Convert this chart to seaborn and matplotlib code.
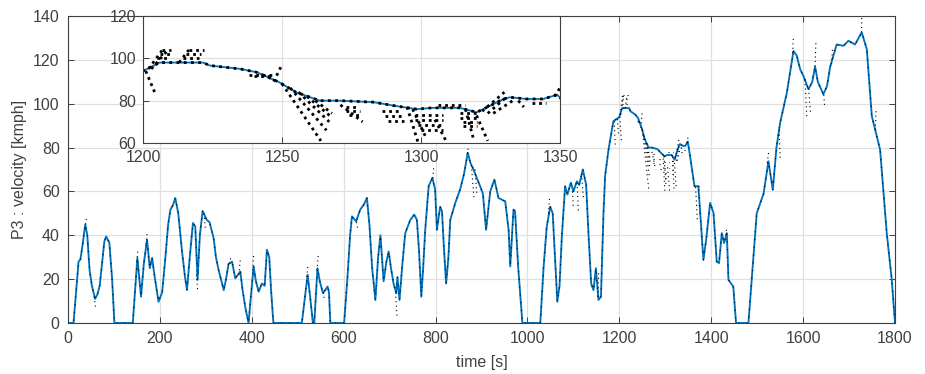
import numpy as np
import pandas as pd
import matplotlib
matplotlib.use("Agg")
import matplotlib.pyplot as plt
import seaborn as sns

# ---------------- data ----------------
ref_t = [0, 12, 23, 27, 32, 37.6, 42, 47, 52, 59, 64, 69, 75, 79, 83, 90, 96, 101,
         141, 151, 159, 165, 172, 178, 183, 188, 197, 205, 212, 218, 223, 229, 233.5,
         240, 248, 254, 259, 265, 272, 277, 282, 287, 293, 302, 308, 317, 322, 328,
         339, 344, 349.5, 357, 364, 370, 375, 380, 386, 393, 398, 404, 409, 415, 422,
         428, 433, 438, 442, 447, 509, 521.5, 527, 533, 536, 543, 548, 555, 565, 568,
         571, 601, 608, 614, 618, 627, 636, 644, 650.6, 656, 662, 669, 675, 680, 687,
         693, 698, 703, 708.6, 714.4, 717, 721.6, 727, 734, 745, 753.6, 759.4, 764,
         769, 773, 777.5, 785, 793, 799, 803, 810, 814, 818, 823, 828, 832, 843,
         853.6, 862, 870, 876, 882.6, 890, 897, 903, 910, 919, 928, 937, 951.6, 959,
         962.6, 969.6, 973, 980, 989, 1028, 1035, 1042, 1049.6, 1055, 1060, 1065,
         1069.7, 1075, 1082, 1087, 1094.5, 1100, 1107.6, 1112.6, 1120.6, 1127.8, 1133,
         1138.7, 1143.7, 1149, 1154.6, 1160, 1165.5, 1169, 1176.4, 1187, 1198, 1200,
         1206, 1221.6, 1224, 1235, 1241, 1249, 1255, 1263.6, 1270.8, 1282.8, 1290,
         1298.4, 1304, 1314, 1320, 1325, 1329.7, 1332, 1338, 1344, 1349, 1354, 1363.5,
         1372, 1383, 1389, 1397.6, 1405, 1412, 1417, 1423, 1428, 1434, 1437.5, 1448,
         1454, 1481, 1490, 1499, 1514, 1524.5, 1534, 1542, 1550, 1564.6, 1579, 1586,
         1593.6, 1600, 1611.6, 1620, 1626, 1632, 1644, 1652, 1659, 1673, 1688, 1698.6,
         1713, 1727.6, 1738.6, 1749.5, 1760.4, 1767.6, 1782, 1793, 1800]
ref_v = [0, 0, 28, 29, 36, 45, 40, 24, 17, 11, 13, 17, 29, 37, 39.5, 36.6, 20, 0,
         0, 29.7, 12, 27, 38, 25, 29.7, 22, 9.7, 14, 30, 45, 51.7, 54, 57,
         50, 33, 22, 15, 30, 45.6, 44, 19.7, 40, 51, 47, 46, 38.7, 30, 24,
         15, 20, 27, 28, 20.4, 22, 23.5, 15, 7, 0, 12, 25.8, 19, 14.3, 18,
         17, 33.4, 30, 15, 0, 0, 22, 12, 0, 0, 25, 19, 13.6, 16.6, 14,
         0, 0, 20, 40, 48.6, 46.3, 51.7, 54, 57, 45, 25, 10.5, 30, 40, 19,
         28, 32.6, 25, 18, 13.6, 21, 10.5, 25, 41, 47, 49.4, 47, 33,
         12, 25, 42.5, 62.4, 66.2, 61, 42.5, 53, 51, 35, 18, 30, 47, 54.8,
         61, 68, 77.6, 73, 70, 66, 62.4, 59, 42.5, 60, 65.4, 57, 55.5, 42.5,
         25.8, 51.7, 51, 25, 0, 0, 25, 44, 53, 50, 30, 9.7,
         16.6, 40, 62.4, 58.6, 64, 60, 64.6, 63, 70, 63, 40,
         18, 15, 25, 10.5, 12, 50, 67, 79, 92, 93.6, 94,
         98, 98, 96.6, 95, 93.4, 88.7, 84, 80, 80, 79.3, 77.7,
         76, 76.6, 76.6, 74.5, 77.7, 80.8, 81.6, 80.8, 80.8, 82.8, 76, 62.4,
         62.4, 28.8, 38, 54.8, 50.2, 28, 27.3, 41, 36.5, 41, 19.7, 16.6,
         0, 0, 25, 50, 59, 73.8, 60.8, 80, 91.3, 105, 124, 122,
         115.7, 113, 106.6, 110, 117, 110, 104.3, 108, 117, 127, 126.4, 128.7,
         127, 132.5, 124.9, 94.4, 85.2, 79, 41, 19.7, 0]

# dotted deviations of the measured signal (start point -> tip)
spike_t0 = [38, 57, 150, 170, 280, 296, 352, 372, 402, 520, 542, 556, 628, 713, 794,
            869, 878, 886, 1046, 1098, 1108, 1118, 1153, 1189, 1196, 1348, 1366, 1373,
            1432, 1522, 1548, 1577, 1604, 1612, 1626, 1645, 1662, 1727, 1757]
spike_v0 = [45, 12, 28, 36, 22, 50, 27, 22, 24, 21, 24, 14, 46, 14, 66,
            77, 72, 70, 50, 60, 64, 68, 12, 92, 93, 82, 62, 62,
            40, 73, 88, 123, 111, 107, 117, 104, 118, 132.5, 88]
spike_t1 = [40, 60, 152, 172, 282, 299, 355, 375, 404, 522, 545, 558, 631, 716, 796,
            871, 884, 890, 1048, 1100, 1111, 1122, 1155, 1191, 1198, 1350, 1370, 1376,
            1434, 1525, 1550, 1579, 1608, 1616, 1628, 1647, 1664, 1728, 1759]
spike_v1 = [48, 7, 33, 41, 15, 43, 31, 29, 31, 26, 32, 10, 42, 3, 71,
            80, 56, 58, 57, 52, 50, 56, 23, 80, 86, 86, 46, 64,
            44, 78, 75, 131, 94, 96, 129, 98, 125, 141, 98]

# fans of predicted samples in the 1200-1350 s window (start point -> end point)
fan_t0 = [1201, 1202, 1203, 1207, 1206, 1205, 1213, 1216.5, 1215.5, 1214.5, 1238, 1240,
          1247, 1250, 1253, 1256, 1259, 1262, 1271, 1273, 1273, 1274, 1286, 1287, 1288,
          1295, 1297, 1298, 1298, 1299, 1300, 1305, 1306, 1314, 1314, 1315, 1315, 1316,
          1320, 1322, 1324, 1326, 1335, 1340]
fan_v0 = [94, 95, 95, 104, 102, 100, 98, 104, 102, 100, 92, 91.5,
          89, 88, 86, 84, 82, 80, 78, 77, 75, 73, 75, 72.7, 70.3,
          77, 76, 73.2, 70.9, 68.5, 66.1, 71, 78, 74, 72, 70, 68, 76,
          73, 75, 74, 74, 80, 79]
fan_t1 = [1204.5, 1207, 1209, 1210, 1210, 1209, 1216.5, 1222, 1221, 1220, 1247, 1246,
          1250, 1264, 1266, 1267, 1268, 1268, 1279, 1277, 1278, 1278, 1292, 1293, 1294,
          1299, 1302, 1308, 1308, 1308, 1308, 1309.4, 1316, 1320, 1320, 1320, 1320, 1319,
          1324, 1330, 1331, 1333, 1337, 1345]
fan_v1 = [83, 104, 104, 104, 102, 100, 104, 104, 102, 100, 92, 91.5,
          97, 61, 66, 70, 72, 74, 70, 77, 75, 73, 75, 72.7, 70.3,
          60, 62, 73.2, 70.9, 68.5, 66.1, 60, 78, 74, 72, 70, 68, 61.3,
          61, 84, 82, 80, 77, 79]

main_xticks = [0, 200, 400, 600, 800, 1000, 1200, 1400, 1600, 1800]
main_yticks = [0, 20, 40, 60, 80, 100, 120, 140]
inset_xticks = [1200, 1250, 1300, 1350]
inset_yticks = [60, 80, 100, 120]

BLUE = "#0072BD"
AXC = "#404040"

# ---------------- frames ----------------
ref_df = pd.DataFrame({"t": ref_t, "v": ref_v})

def seg_frame(t0, v0, t1, v1):
    rows = []
    for i, (a, b, c, d) in enumerate(zip(t0, v0, t1, v1)):
        rows.append({"seg": i, "t": a, "v": b})
        rows.append({"seg": i, "t": c, "v": d})
    return pd.DataFrame(rows)

spike_df = seg_frame(spike_t0, spike_v0, spike_t1, spike_v1)
fan_df = seg_frame(fan_t0, fan_v0, fan_t1, fan_v1)

# ---------------- style ----------------
sns.set_theme(style="white")
plt.rcParams["font.family"] = ["Liberation Sans", "DejaVu Sans"]
FS = 11.5

fig = plt.figure(figsize=(9.25, 3.74), dpi=100)
ax = fig.add_axes([68 / 925, 51 / 374, 827 / 925, 307 / 374])
ins = fig.add_axes([143 / 925, 231 / 374, 417 / 925, 127 / 374])


def style_axes(a, xt, yt, xl, yl):
    a.set_xlim(*xl)
    a.set_ylim(*yl)
    a.set_xticks(xt)
    a.set_yticks(yt)
    a.grid(True, color="#e0e0e0", lw=0.9)
    a.set_axisbelow(True)
    a.tick_params(direction="in", length=4, width=0.7, colors=AXC,
                  labelsize=FS, labelcolor=AXC, top=True, right=True,
                  bottom=True, left=True, pad=6)
    for s in a.spines.values():
        s.set_color(AXC)
        s.set_linewidth(0.8)
    a.set_facecolor("white")


# main axes
sns.lineplot(data=ref_df, x="t", y="v", color=BLUE, lw=1.35, sort=False, ax=ax)
sns.lineplot(data=ref_df, x="t", y="v", color="black", lw=0.8,
             linestyle=(0, (1, 6)), sort=False, ax=ax)
sns.lineplot(data=spike_df, x="t", y="v", units="seg", estimator=None, color="black",
             lw=0.8, linestyle=(0, (1, 3)), sort=False, ax=ax)
sns.lineplot(data=fan_df, x="t", y="v", units="seg", estimator=None, color="black",
             lw=0.8, linestyle=(0, (1, 3)), sort=False, ax=ax)
style_axes(ax, main_xticks, main_yticks, (0, 1800), (0, 140))
ax.set_xlabel("time [s]", color=AXC, fontsize=FS, labelpad=6)
ax.set_ylabel("P3 : velocity [kmph]", color=AXC, fontsize=FS, labelpad=4)

# inset axes
sns.lineplot(data=ref_df, x="t", y="v", color=BLUE, lw=1.3, sort=False, ax=ins)
sns.lineplot(data=ref_df, x="t", y="v", color="black", lw=2.0,
             linestyle=(0, (1, 1.6)), sort=False, ax=ins)
sns.lineplot(data=spike_df, x="t", y="v", units="seg", estimator=None, color="black",
             lw=2.0, linestyle=(0, (1, 1.4)), sort=False, ax=ins)
sns.lineplot(data=fan_df, x="t", y="v", units="seg", estimator=None, color="black",
             lw=2.0, linestyle=(0, (1, 1.4)), sort=False, ax=ins)
style_axes(ins, inset_xticks, inset_yticks, (1200, 1350), (60, 120))
ins.tick_params(top=False, right=False, pad=5)
ins.set_xlabel("")
ins.set_ylabel("")

fig.savefig("out.png", dpi=100)
